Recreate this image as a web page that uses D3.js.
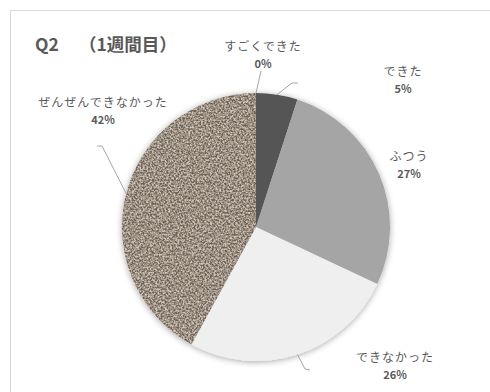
<!DOCTYPE html>
<html>
<head>
<meta charset="utf-8">
<script src="https://cdn.jsdelivr.net/npm/d3@7"></script>
<style>
  html, body { margin: 0; padding: 0; background: #fff; }
  svg { display: block; }
</style>
</head>
<body>
<svg id="chart" width="490" height="392"></svg>
<script>
// Survey answers for Q2, week 1
const categories = ["すごくできた", "できた", "ふつう", "できなかった", "ぜんぜんできなかった"];
const percents = [0, 5, 27, 26, 42];
const pctLabels = ["0%", "5%", "27%", "26%", "42%"];
const sliceColors = ["#7f7f7f", "#555555", "#a5a5a5", "#efefef", "#9b8d80"];

// Label placement (label centre, first-line baseline) and leader-line bends
const labelLayout = [
  { x: 263, y: 51, leader: [[261, 71]] },
  { x: 403, y: 76, leader: [[292, 83], [298, 83]] },
  { x: 409, y: 161, leader: null },
  { x: 395, y: 362, leader: [[305, 369], [310, 370]] },
  { x: 103, y: 107, leader: [[102, 146], [97, 146]] }
];

const svg = d3.select("#chart");
const cx = 256, cy = 227, R = 134;
const textColor = "#595959";
const font = "'Noto Sans CJK JP', 'Noto Sans', sans-serif";

const defs = svg.append("defs");

// Soft shadow around the pie
const shadow = defs.append("filter").attr("id", "pieShadow")
  .attr("x", "-10%").attr("y", "-10%").attr("width", "120%").attr("height", "120%");
shadow.append("feDropShadow")
  .attr("dx", 0).attr("dy", 1).attr("stdDeviation", 3)
  .attr("flood-color", "#000").attr("flood-opacity", 0.35);

// Speckled stone-like texture for the largest slice
const speckle = defs.append("filter").attr("id", "speckle")
  .attr("color-interpolation-filters", "sRGB")
  .attr("x", "0").attr("y", "0").attr("width", "1").attr("height", "1");
speckle.append("feTurbulence")
  .attr("type", "fractalNoise").attr("baseFrequency", 0.55)
  .attr("numOctaves", 2).attr("seed", 7).attr("result", "noise");
speckle.append("feColorMatrix").attr("in", "noise").attr("type", "matrix")
  .attr("values", "1 0 0 0 0  1 0 0 0 0  1 0 0 0 0  0 0 0 0 1")
  .attr("result", "gray");
const ct = speckle.append("feComponentTransfer").attr("in", "gray").attr("result", "col");
ct.append("feFuncR").attr("type", "discrete")
  .attr("tableValues", "0.42 0.42 0.42 0.42 0.48 0.58 0.65 0.73 0.81 0.81 0.81 0.81");
ct.append("feFuncG").attr("type", "discrete")
  .attr("tableValues", "0.37 0.37 0.37 0.37 0.43 0.53 0.60 0.69 0.77 0.77 0.77 0.77");
ct.append("feFuncB").attr("type", "discrete")
  .attr("tableValues", "0.33 0.33 0.33 0.33 0.39 0.48 0.55 0.64 0.72 0.72 0.72 0.72");
speckle.append("feComposite").attr("in", "col").attr("in2", "SourceGraphic").attr("operator", "in");

// Chart-area frame
svg.append("rect")
  .attr("x", 10.5).attr("y", 10.5).attr("width", 600).attr("height", 600)
  .attr("fill", "none").attr("stroke", "#d9d9d9").attr("stroke-width", 1);

// Title
const title = svg.append("text")
  .attr("x", 35).attr("y", 51)
  .attr("font-family", font).attr("font-size", 17.5).attr("font-weight", "bold")
  .attr("fill", textColor);
title.append("tspan").text("Q2");
title.append("tspan").attr("x", 79).text("（1週間目）");

// Pie
const data = categories.map((c, i) => ({ name: c, value: percents[i], label: pctLabels[i], i }));
const pie = d3.pie().value(d => d.value).sort(null);
const arcs = pie(data);
const arc = d3.arc().innerRadius(0).outerRadius(R);
const edge = d3.arc().innerRadius(R).outerRadius(R);

const g = svg.append("g").attr("transform", `translate(${cx},${cy})`);
const slices = g.append("g").attr("filter", "url(#pieShadow)");
slices.selectAll("path")
  .data(arcs)
  .join("path")
  .attr("d", arc)
  .attr("fill", d => sliceColors[d.index])
  .attr("filter", d => d.index === 4 ? "url(#speckle)" : null);

// Leader lines from the slice edge at its mid-angle
arcs.forEach((a, i) => {
  const lay = labelLayout[i];
  if (!lay.leader) return;
  const [sx, sy] = edge.centroid(a);
  const pts = [[cx + sx, cy + sy]].concat(lay.leader);
  svg.append("path")
    .attr("d", d3.line()(pts))
    .attr("fill", "none").attr("stroke", "#a6a6a6").attr("stroke-width", 1);
});

// Data labels
arcs.forEach((a, i) => {
  const lay = labelLayout[i];
  const t = svg.append("g").attr("font-family", font).attr("fill", textColor)
    .attr("text-anchor", "middle");
  t.append("text").attr("x", lay.x).attr("y", lay.y)
    .attr("font-size", 12).attr("letter-spacing", 1).text(a.data.name);
  t.append("text").attr("x", lay.x).attr("y", lay.y + 17)
    .attr("font-size", 11).attr("font-weight", "bold").text(a.data.label);
});
</script>
</body>
</html>
